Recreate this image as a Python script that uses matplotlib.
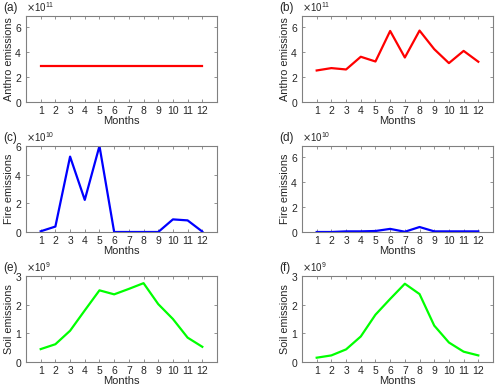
import numpy as np
import matplotlib
matplotlib.use("Agg")
import matplotlib.pyplot as plt
from matplotlib.ticker import ScalarFormatter

plt.rcParams['font.family'] = ['Liberation Sans', 'DejaVu Sans']
plt.rcParams['font.size'] = 7.5

months = list(range(1, 13))

anthro_a = [2.9e11] * 12
anthro_b = [2.53e11, 2.72e11, 2.61e11, 3.63e11, 3.25e11, 5.70e11,
            3.57e11, 5.73e11, 4.24e11, 3.12e11, 4.10e11, 3.23e11]
fire_c = [0.05e10, 0.38e10, 5.26e10, 2.24e10, 6.0e10, 0.0,
          0.0, 0.0, 0.0, 0.88e10, 0.81e10, 0.03e10]
fire_d = [0.0, 0.0, 0.05e10, 0.05e10, 0.08e10, 0.25e10,
          0.02e10, 0.40e10, 0.05e10, 0.05e10, 0.05e10, 0.05e10]
soil_e = [0.45e9, 0.62e9, 1.09e9, 1.80e9, 2.50e9, 2.36e9,
          2.55e9, 2.75e9, 2.02e9, 1.50e9, 0.85e9, 0.53e9]
soil_f = [0.15e9, 0.23e9, 0.44e9, 0.89e9, 1.65e9, 2.20e9,
          2.73e9, 2.37e9, 1.27e9, 0.68e9, 0.36e9, 0.23e9]

panels = [
    ('(a)', anthro_a, 'red', 'Anthro emissions', 6.9e11, [0, 2e11, 4e11, 6e11]),
    ('(b)', anthro_b, 'red', 'Anthro emissions', 6.9e11, [0, 2e11, 4e11, 6e11]),
    ('(c)', fire_c, 'blue', 'Fire emissions', 6.0e10, [0, 2e10, 4e10, 6e10]),
    ('(d)', fire_d, 'blue', 'Fire emissions', 6.9e10, [0, 2e10, 4e10, 6e10]),
    ('(e)', soil_e, '#00ff00', 'Soil emissions', 3.0e9, [0, 1e9, 2e9, 3e9]),
    ('(f)', soil_f, '#00ff00', 'Soil emissions', 3.0e9, [0, 1e9, 2e9, 3e9]),
]

fig = plt.figure(figsize=(5, 3.89), dpi=100)
W, H = 500, 389
lefts = [26, 302]
tops = [16, 146, 276]
aw, ah = 191, 86

for i, (lab, vals, col, ylab, ymax, yt) in enumerate(panels):
    r, c = divmod(i, 2)
    ax = fig.add_axes([lefts[c] / W, 1 - (tops[r] + ah) / H, aw / W, ah / H])
    ax.plot(months, vals, color=col, lw=1.6)
    ax.set_xlim(0, 13)
    ax.set_ylim(0, ymax)
    ax.set_xticks(months)
    ax.set_yticks(yt)
    fmt = ScalarFormatter(useMathText=True)
    fmt.set_scientific(True)
    fmt.set_powerlimits((0, 0))
    ax.yaxis.set_major_formatter(fmt)
    ax.yaxis.get_offset_text().set_color('#666666')
    ax.yaxis.get_offset_text().set_fontsize(7)
    ax.tick_params(direction='in', length=2.5, width=0.6, colors='#808080',
                   labelcolor='#262626', top=True, right=True, pad=3)
    for s in ax.spines.values():
        s.set_color('#808080')
        s.set_linewidth(0.8)
    ax.set_xlabel('Months', color='#262626', fontsize=8, labelpad=0)
    ax.set_ylabel(ylab, color='#262626', fontsize=7.8)
    ax.yaxis.set_label_coords(-0.065, 0.5)
    ax.text(-0.12, 1.06, lab, transform=ax.transAxes, fontsize=8.5,
            ha='left', va='baseline', color='#262626')

fig.savefig('out.png', dpi=100)
